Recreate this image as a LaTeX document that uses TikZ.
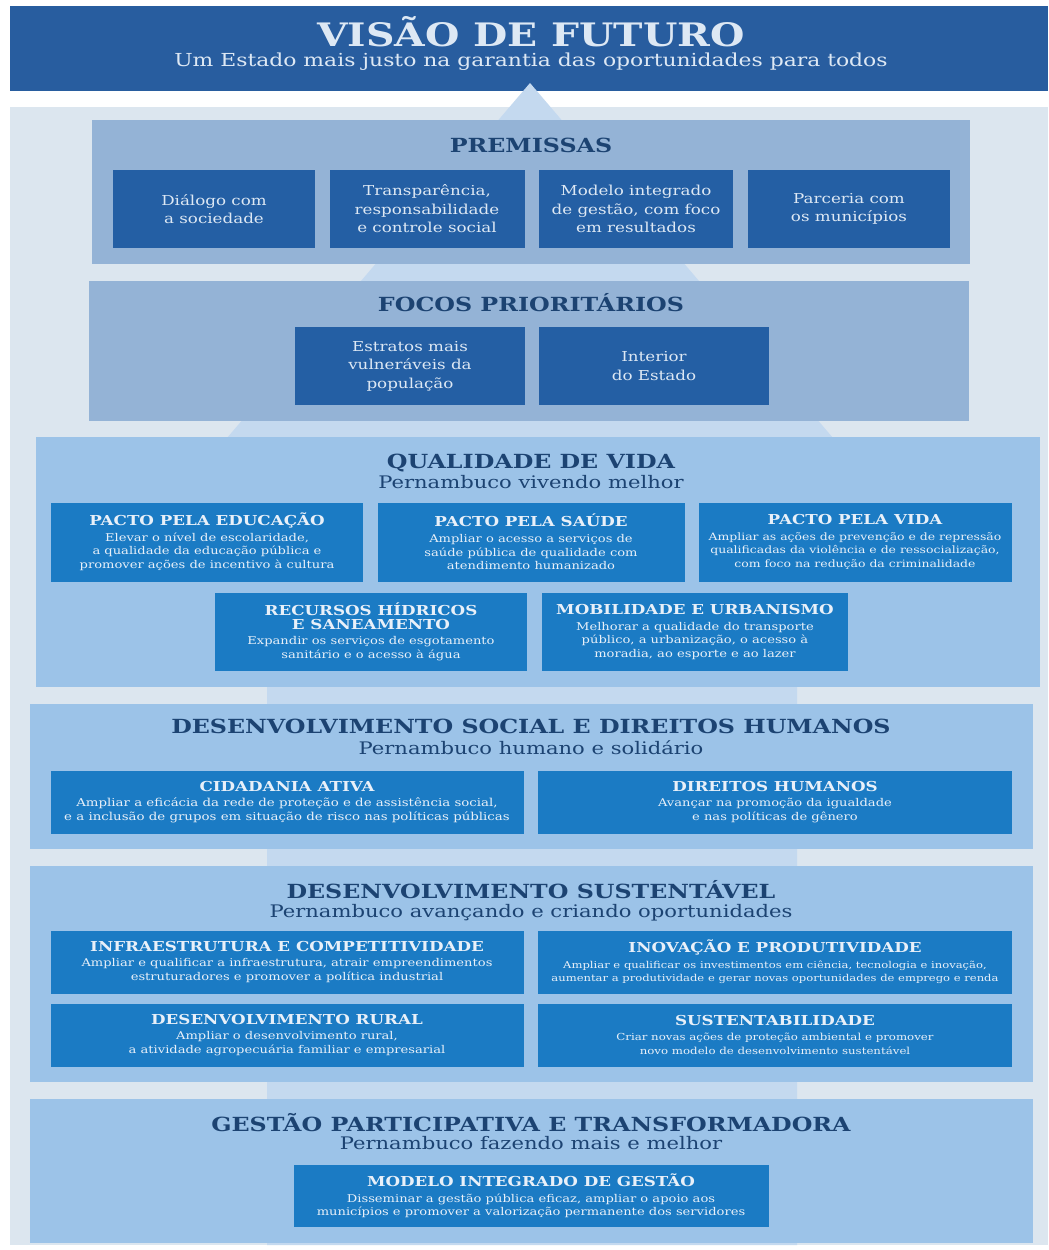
\documentclass[tikz,border=0pt]{standalone}
\usepackage{fontspec}
\setmainfont[FakeStretch=1.22]{DejaVu Serif}
\usepackage{tikz}
\usetikzlibrary{positioning}
\usepackage{xcolor}

\definecolor{cabeca}{HTML}{285D9F}
\definecolor{fundo}{HTML}{DCE6EF}
\definecolor{seta}{HTML}{C4D9EF}
\definecolor{cinza}{HTML}{94B3D6}
\definecolor{celeste}{HTML}{9CC3E8}
\definecolor{azulesc}{HTML}{245FA4}
\definecolor{azulmed}{HTML}{1B7BC4}
\definecolor{marinho}{HTML}{1C4372}
\definecolor{clarotxt}{HTML}{DDE8F4}
\definecolor{brancotxt}{HTML}{E8F0F9}

\newcommand{\cxtit}[1]{{\fontsize{7.8}{9.2}\selectfont\bfseries #1}}

\begin{document}
\begin{tikzpicture}[x=0.02cm, y=-0.02cm,
  tam/.style 2 args={minimum width=#1*0.02cm, minimum height=#2*0.02cm, inner sep=0pt},
  painelA/.style={fill=cinza},
  painelB/.style={fill=celeste},
  escura/.style={fill=azulesc, text=clarotxt, align=center, font=\fontsize{7.8}{10.5}\selectfont},
  media/.style={fill=azulmed, text=brancotxt, align=center, font=\fontsize{6.1}{7.8}\selectfont},
  titulo/.style={anchor=base, text=marinho, font=\fontsize{11.07}{13}\selectfont\bfseries},
  subtit/.style={anchor=base, text=marinho, font=\fontsize{9.84}{12}\selectfont}]

  % 背景
  \useasboundingbox (0,0) rectangle (1048,1250);
  \fill[white] (0,0) rectangle (1048,1250);
  \fill[fundo] (10,107) rectangle (1048,1245);
  \fill[cabeca] (10,6) rectangle (1048,91);
  \fill[seta] (530,83) -- (839,445) -- (797,445) -- (797,1245)
    -- (267,1245) -- (267,445) -- (221,445) -- cycle;

  % 見出し
  \node[anchor=base, text=clarotxt, font=\fontsize{18.4}{20}\selectfont\bfseries] (visao) at (531,47) {VISÃO DE FUTURO};
  \node[anchor=base, text=clarotxt, font=\fontsize{10.2}{12}\selectfont] (lema) at (531,67) {Um Estado mais justo na garantia das oportunidades para todos};

  % 前提
  \node[painelA, tam={878}{144}] (premissas) at (531,192) {};
  \node[titulo] (tpremissas) at (531,153) {PREMISSAS};
  \foreach \n/\x/\w/\t in {1/214/202/{Diálogo com\\a sociedade},
      2/427/195/{Transparência,\\responsabilidade\\e controle social},
      3/636/194/{Modelo integrado\\de gestão, com foco\\em resultados},
      4/849/202/{Parceria com\\os municípios}} {
    \node[escura, tam={\w}{78}] (p\n) at (\x,209) {\t};
  }

  % 重点
  \node[painelA, tam={880}{140}] (focos) at (529,351) {};
  \node[titulo] (tfocos) at (531,311) {FOCOS PRIORITÁRIOS};
  \node[escura, tam={230}{78}] (f1) at (410,366) {Estratos mais\\vulneráveis da\\população};
  \node[escura, tam={230}{78}] (f2) at (654,366) {Interior\\do Estado};

  % 生活の質
  \node[painelB, tam={1004}{250}] (qualidade) at (538,562) {};
  \node[titulo] (tqualidade) at (531,468) {QUALIDADE DE VIDA};
  \node[subtit] (squalidade) at (531,488) {Pernambuco vivendo melhor};
  \node[media, tam={312}{79}] (q1) at (207,542) {\cxtit{PACTO PELA EDUCAÇÃO}\\[1pt]
    Elevar o nível de escolaridade,\\a qualidade da educação pública e\\promover ações de incentivo à cultura};
  \node[media, tam={307}{79}] (q2) at (531,542) {\cxtit{PACTO PELA SAÚDE}\\[1pt]
    Ampliar o acesso a serviços de\\saúde pública de qualidade com\\atendimento humanizado};
  \node[media, tam={313}{79}, font=\fontsize{5.8}{7.8}\selectfont] (q3) at (855,542) {\cxtit{PACTO PELA VIDA}\\[1pt]
    Ampliar as ações de prevenção e de repressão\\qualificadas da violência e de ressocialização,\\com foco na redução da criminalidade};
  \node[media, tam={312}{78}] (q4) at (371,632) {\cxtit{RECURSOS HÍDRICOS}\\\cxtit{E SANEAMENTO}\\[1pt]
    Expandir os serviços de esgotamento\\sanitário e o acesso à água};
  \node[media, tam={306}{78}] (q5) at (695,632) {\cxtit{MOBILIDADE E URBANISMO}\\[1pt]
    Melhorar a qualidade do transporte\\público, a urbanização, o acesso à\\moradia, ao esporte e ao lazer};

  % 社会開発
  \node[painelB, tam={1003}{145}] (social) at (531,776) {};
  \node[titulo] (tsocial) at (531,733) {DESENVOLVIMENTO SOCIAL E DIREITOS HUMANOS};
  \node[subtit] (ssocial) at (531,754) {Pernambuco humano e solidário};
  \node[media, tam={473}{63}, font=\fontsize{6.23}{7.8}\selectfont] (s1) at (287,802) {\cxtit{CIDADANIA ATIVA}\\[1pt]
    Ampliar a eficácia da rede de proteção e de assistência social,\\e a inclusão de grupos em situação de risco nas políticas públicas};
  \node[media, tam={474}{63}] (s2) at (775,802) {\cxtit{DIREITOS HUMANOS}\\[1pt]
    Avançar na promoção da igualdade\\e nas políticas de gênero};

  % 持続可能な開発
  \node[painelB, tam={1003}{216}] (sustentavel) at (531,974) {};
  \node[titulo] (tsustentavel) at (531,898) {DESENVOLVIMENTO SUSTENTÁVEL};
  \node[subtit] (ssustentavel) at (531,917) {Pernambuco avançando e criando oportunidades};
  \node[media, tam={473}{63}] (d1) at (287,962) {\cxtit{INFRAESTRUTURA E COMPETITIVIDADE}\\[1pt]
    Ampliar e qualificar a infraestrutura, atrair empreendimentos\\estruturadores e promover a política industrial};
  \node[media, tam={474}{63}, font=\fontsize{5.4}{7.8}\selectfont] (d2) at (775,962) {\cxtit{INOVAÇÃO E PRODUTIVIDADE}\\[1pt]
    Ampliar e qualificar os investimentos em ciência, tecnologia e inovação,\\aumentar a produtividade e gerar novas oportunidades de emprego e renda};
  \node[media, tam={473}{63}] (d3) at (287,1035) {\cxtit{DESENVOLVIMENTO RURAL}\\[1pt]
    Ampliar o desenvolvimento rural,\\a atividade agropecuária familiar e empresarial};
  \node[media, tam={474}{63}, font=\fontsize{5.5}{7.8}\selectfont] (d4) at (775,1035) {\cxtit{SUSTENTABILIDADE}\\[1pt]
    Criar novas ações de proteção ambiental e promover\\novo modelo de desenvolvimento sustentável};

  % 管理
  \node[painelB, tam={1003}{144}] (gestao) at (531,1171) {};
  \node[titulo] (tgestao) at (531,1131) {GESTÃO PARTICIPATIVA E TRANSFORMADORA};
  \node[subtit] (sgestao) at (531,1149) {Pernambuco fazendo mais e melhor};
  \node[media, tam={475}{62}] (g1) at (531,1196) {\cxtit{MODELO INTEGRADO DE GESTÃO}\\[1pt]
    Disseminar a gestão pública eficaz, ampliar o apoio aos\\municípios e promover a valorização permanente dos servidores};
\end{tikzpicture}
\end{document}
